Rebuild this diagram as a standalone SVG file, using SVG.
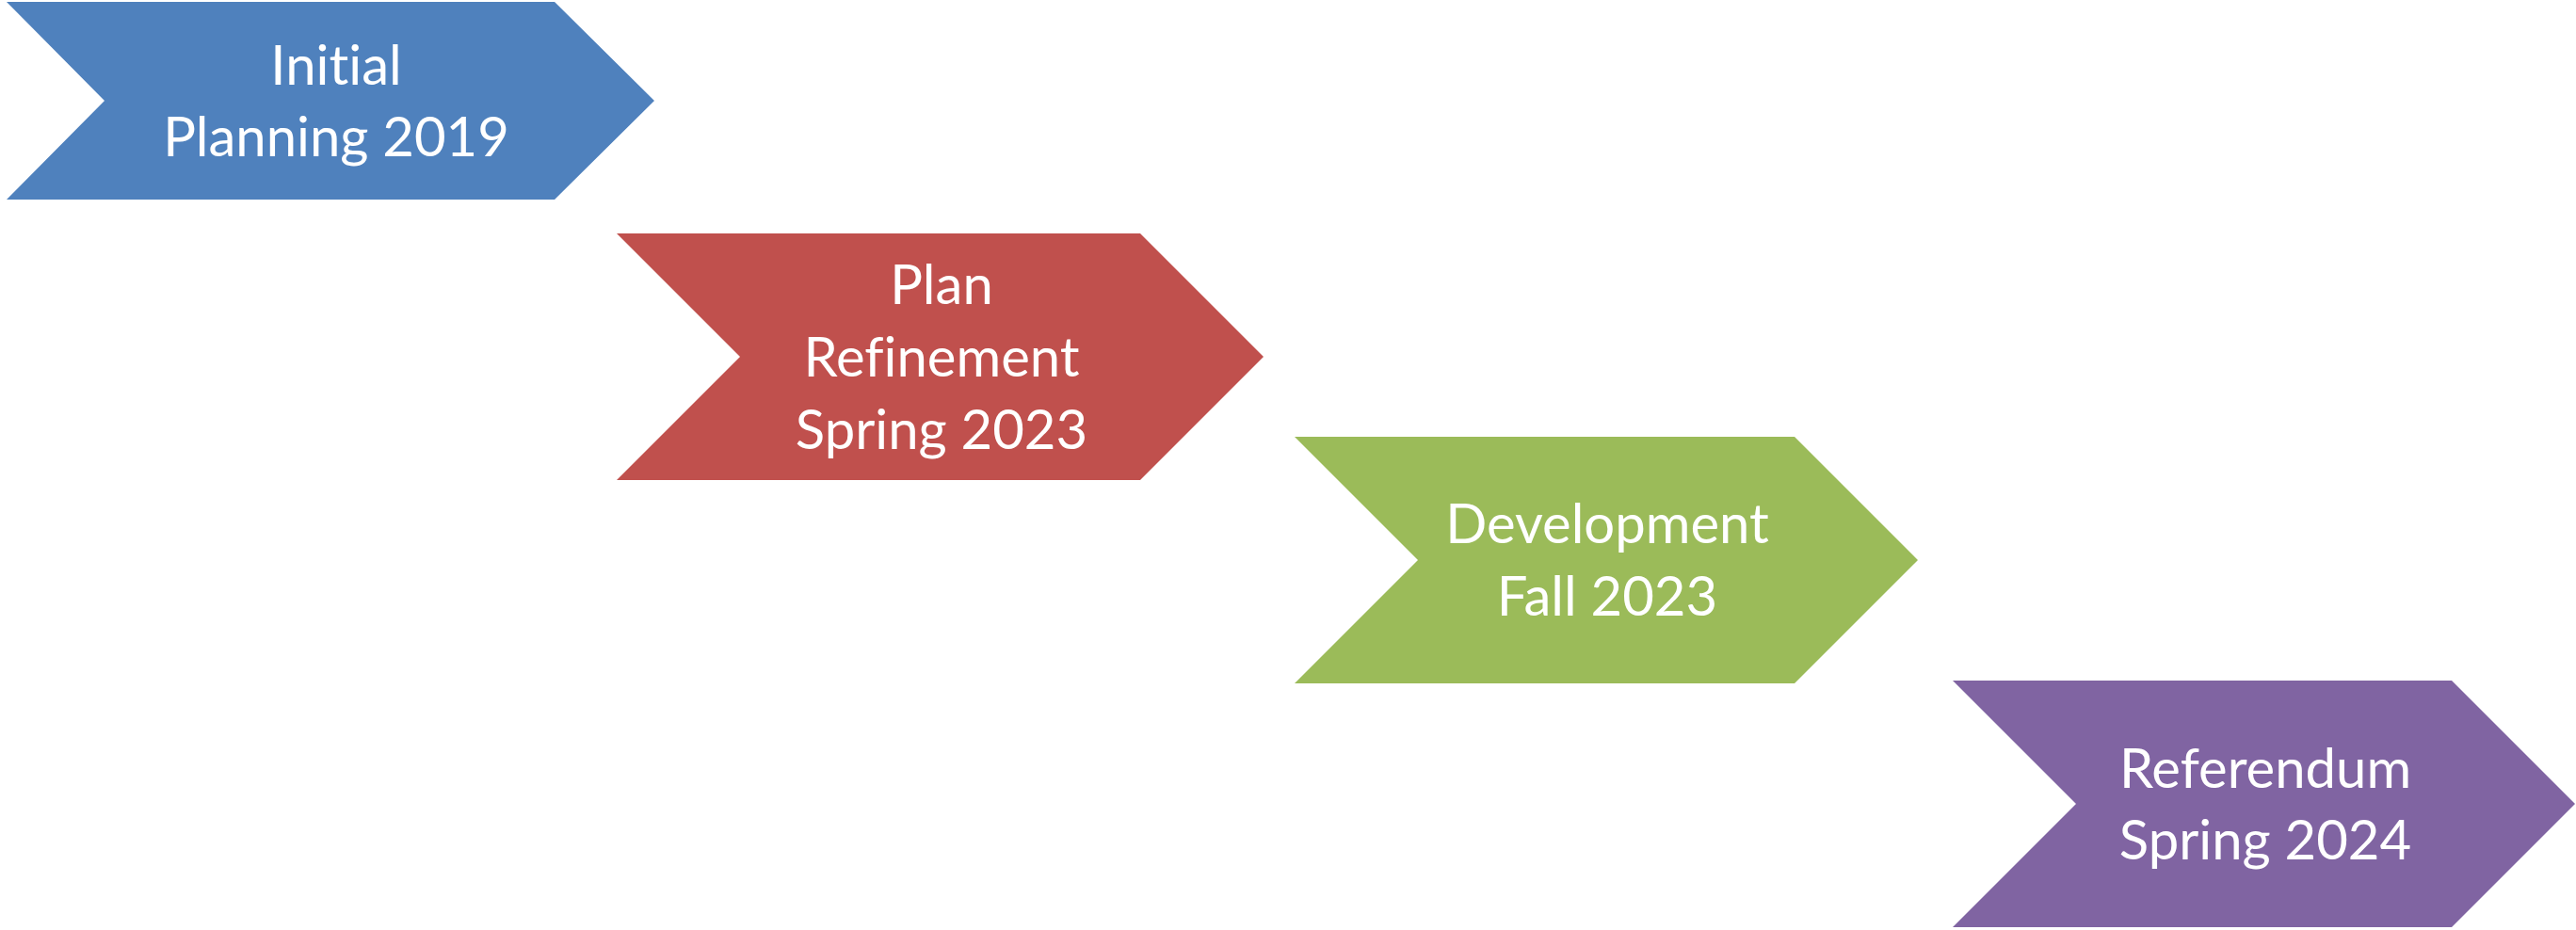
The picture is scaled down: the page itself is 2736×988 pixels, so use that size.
<svg xmlns="http://www.w3.org/2000/svg" width="2736" height="988" viewBox="0 0 2736 988">
<style>
.lbl{font-family:Lato,"Open Sans","Liberation Sans",sans-serif;font-size:58px;fill:#FFFFFF;text-anchor:middle;font-variant-ligatures:none;font-feature-settings:"liga" 0}
</style>
<rect x="0" y="0" width="2736" height="988" fill="#FFFFFF"/>
<g id="node-initial-planning">
<polygon points="7,2 589,2 695,107 589,212 7,212 111,107" fill="#4F81BD"/>
<text class="lbl" x="357" y="90">Initial</text>
<text class="lbl" x="357" y="166">Planning 2019</text>
</g>
<g id="node-plan-refinement">
<polygon points="655,248 1211,248 1342,379 1211,510 655,510 786,379" fill="#C0504D"/>
<text class="lbl" x="1000" y="323">Plan</text>
<text class="lbl" x="1000" y="400">Refinement</text>
<text class="lbl" x="1000" y="477">Spring 2023</text>
</g>
<g id="node-development">
<polygon points="1375,464 1906,464 2037,595 1906,726 1375,726 1506,595" fill="#9BBB59"/>
<text class="lbl" x="1707" y="577">Development</text>
<text class="lbl" x="1707" y="654">Fall 2023</text>
</g>
<g id="node-referendum">
<polygon points="2074,723 2604,723 2735,854 2604,985 2074,985 2205,854" fill="#8064A2"/>
<text class="lbl" x="2406" y="837">Referendum</text>
<text class="lbl" x="2406" y="913">Spring 2024</text>
</g>
<g id="connectors"></g>
</svg>
